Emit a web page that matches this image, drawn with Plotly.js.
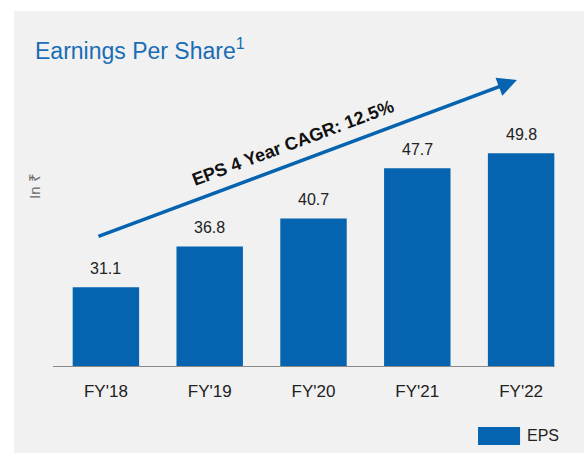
<!DOCTYPE html>
<html>
<head>
<meta charset="utf-8">
<script src="https://cdn.plot.ly/plotly-3.0.1.min.js"></script>
<style>html,body{margin:0;padding:0;background:#fff;}#chart{width:584px;height:453px;}</style>
</head>
<body>
<div id="chart"></div>
<script>
var categories = ["FY'18", "FY'19", "FY'20", "FY'21", "FY'22"];
var eps = [31.1, 36.8, 40.7, 47.7, 49.8];
var seriesName = "EPS";
var cagrText = "EPS 4 Year CAGR: 12.5%";
var unitText = "In ₹";

var blue = "#0563b0";
var FONT = "Arial, Liberation Sans, sans-serif";

var trace = {
  type: "bar",
  x: categories,
  y: eps,
  name: seriesName,
  marker: {color: blue},
  width: 0.64,
  showlegend: false,
  hoverinfo: "skip"
};

var annotations = categories.map(function(c, i) {
  return {
    x: c, y: eps[i], xref: "x", yref: "y",
    text: eps[i].toFixed(1), showarrow: false,
    yanchor: "bottom", yshift: 8,
    font: {family: FONT, size: 16, color: "#222"}
  };
});

annotations.push({
  x: 0.892, y: 1.0, xref: "paper", yref: "paper",
  ax: -420, ay: 157, axref: "pixel", ayref: "pixel",
  text: "", showarrow: true, arrowhead: 2, arrowsize: 1.1, arrowwidth: 3.5,
  arrowcolor: blue, standoff: 0
});
annotations.push({
  x: 0.4605, y: 0.7805, xref: "paper", yref: "paper",
  text: "<b>" + cagrText + "</b>", showarrow: false, textangle: -20.5,
  xanchor: "center", yanchor: "middle",
  font: {family: FONT, size: 18, color: "#111"}
});
annotations.push({
  x: (34 - 54) / 519, y: (367 - 186) / 287, xref: "paper", yref: "paper",
  text: unitText, showarrow: false, textangle: -90,
  xanchor: "center", yanchor: "middle",
  font: {family: FONT, size: 15, color: "#666"}
});
annotations.push({
  x: 0.9075, y: -0.2404, xref: "paper", yref: "paper",
  text: seriesName, showarrow: false, xanchor: "left", yanchor: "middle",
  font: {family: FONT, size: 16, color: "#222"}
});

var shapes = [
  {type: "rect", xref: "paper", yref: "paper", x0: -0.0771, x1: 1.03, y0: -0.31, y1: 1.2404,
   fillcolor: "#f1f1f1", line: {width: 0}, layer: "below"},
  {type: "line", xref: "paper", yref: "y", x0: -0.002, x1: 0.962, y0: 20, y1: 20,
   line: {color: "#8a8a8a", width: 2}},
  {type: "rect", xref: "paper", yref: "paper", x0: 0.817, x1: 0.898, y0: -0.272, y1: -0.209,
   fillcolor: blue, line: {width: 0}}
];

var layout = {
  width: 584, height: 453,
  margin: {l: 54, r: 11, t: 80, b: 86},
  paper_bgcolor: "#ffffff",
  plot_bgcolor: "rgba(0,0,0,0)",
  title: {
    text: "Earnings Per Share<sup>1</sup>",
    x: 35/584, xanchor: "left", xref: "container",
    y: 1 - 51/453, yanchor: "middle", yref: "container",
    font: {family: FONT, size: 23, color: "#1a6db4"}
  },
  xaxis: {
    type: "category",
    showline: false, showgrid: false, zeroline: false,
    ticks: "outside", ticklen: 9, tickcolor: "rgba(0,0,0,0)",
    tickfont: {family: FONT, size: 17, color: "#222"}
  },
  yaxis: {
    range: [20, 60], visible: false, fixedrange: true
  },
  bargap: 0.36,
  showlegend: false,
  shapes: shapes,
  annotations: annotations
};

Plotly.newPlot("chart", [trace], layout, {displayModeBar: false, staticPlot: true});
</script>
</body>
</html>
